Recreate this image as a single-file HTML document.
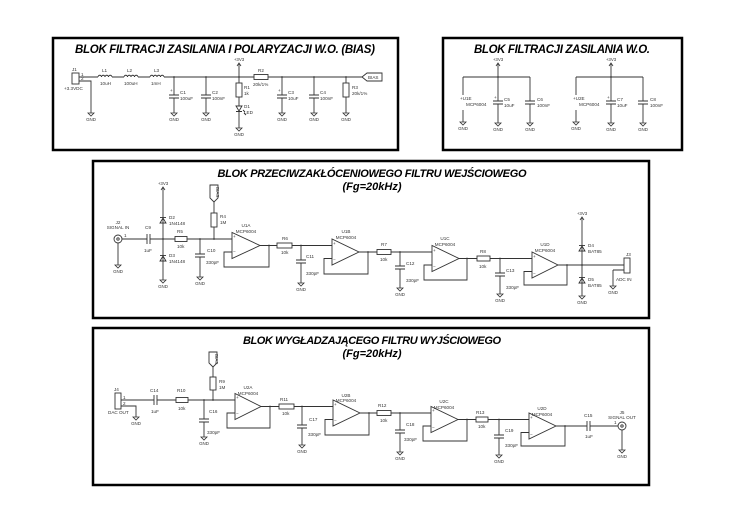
<!DOCTYPE html>
<html><head><meta charset="utf-8"><style>
html,body{margin:0;padding:0;background:#fff}
svg{display:block}
text{font-family:"Liberation Sans",sans-serif;fill:#333}
.t{font-weight:bold;font-style:italic;fill:#000}
.s{font-size:4.6px}
</style></head><body>
<svg width="740" height="523" viewBox="0 0 740 523" xmlns="http://www.w3.org/2000/svg">
<defs>
<g id="gnd"><polygon points="-3,0 3,0 0,3" fill="none" stroke="#333" stroke-width="0.8"/><text x="0" y="8" text-anchor="middle" font-size="4.4" font-family="Liberation Sans">GND</text></g>
<g id="vcc"><polyline points="-2,3 0,0 2,3" fill="none" stroke="#333" stroke-width="0.8"/><text x="0" y="-2" text-anchor="middle" font-size="4.4" font-family="Liberation Sans">+3V3</text></g>
</defs>
<rect width="740" height="523" fill="#fff"/>
<g fill="none" stroke="#000" stroke-width="2.5">
<rect x="53" y="38" width="345" height="112"/>
<rect x="443" y="38" width="239" height="112"/>
<rect x="93" y="161" width="556" height="157"/>
<rect x="93" y="328" width="556" height="157"/>
</g>
<text class="t" x="225" y="53" font-size="11.5" text-anchor="middle" textLength="300">BLOK FILTRACJI ZASILANIA I POLARYZACJI W.O. (BIAS)</text>
<text class="t" x="562" y="53" font-size="11.5" text-anchor="middle" textLength="176">BLOK FILTRACJI ZASILANIA W.O.</text>
<text class="t" x="372" y="177" font-size="11" text-anchor="middle" textLength="309">BLOK PRZECIWZAKŁÓCENIOWEGO FILTRU WEJŚCIOWEGO</text>
<text class="t" x="372" y="190" font-size="11" text-anchor="middle">(Fg=20kHz)</text>
<text class="t" x="372" y="344" font-size="11" text-anchor="middle" textLength="258">BLOK WYGŁADZAJĄCEGO FILTRU WYJŚCIOWEGO</text>
<text class="t" x="372" y="357" font-size="11" text-anchor="middle">(Fg=20kHz)</text>

<!-- BOX1 -->
<g fill="none" stroke="#333" stroke-width="0.9">
<rect x="72" y="73" width="7" height="11"/>
<path d="M79 77H98M112 77H124M138 77H150M164 77H254M268 77H362M79 81H91V113"/>
<path d="M98 77a1.75 1.75 0 0 1 3.5 0a1.75 1.75 0 0 1 3.5 0a1.75 1.75 0 0 1 3.5 0a1.75 1.75 0 0 1 3.5 0"/>
<path d="M124 77a1.75 1.75 0 0 1 3.5 0a1.75 1.75 0 0 1 3.5 0a1.75 1.75 0 0 1 3.5 0a1.75 1.75 0 0 1 3.5 0"/>
<path d="M150 77a1.75 1.75 0 0 1 3.5 0a1.75 1.75 0 0 1 3.5 0a1.75 1.75 0 0 1 3.5 0a1.75 1.75 0 0 1 3.5 0"/>
<path d="M174 77V95M169 95H179M169 98H179M174 98V113"/>
<path d="M206 77V95M201 95H211M201 98H211M206 98V113"/>
<path d="M239 64V83M239 97V106M239 112V128"/>
<rect x="236" y="83" width="6" height="14"/>
<polygon points="236,106 242,106 239,111"/><path d="M236 111.5H242M243 110l2 2M244 113l2 2"/>
<rect x="254" y="74.5" width="14" height="5"/>
<path d="M282 77V95M277 95H287M277 98H287M282 98V113"/>
<path d="M314 77V95M309 95H319M309 98H319M314 98V113"/>
<path d="M346 77V83M346 97V113"/>
<rect x="343" y="83" width="6" height="14"/>
<polygon points="362,77 367,73 382,73 382,81 367,81"/>
</g>
<g fill="#333"><circle cx="174" cy="77" r="0.9"/><circle cx="206" cy="77" r="0.9"/><circle cx="239" cy="77" r="0.9"/><circle cx="282" cy="77" r="0.9"/><circle cx="314" cy="77" r="0.9"/><circle cx="346" cy="77" r="0.9"/></g>
<use href="#gnd" x="91" y="113"/><use href="#gnd" x="174" y="113"/><use href="#gnd" x="206" y="113"/><use href="#gnd" x="239" y="128"/><use href="#gnd" x="282" y="113"/><use href="#gnd" x="314" y="113"/><use href="#gnd" x="346" y="113"/>
<use href="#vcc" x="239" y="63"/>
<g class="s">
<text x="72" y="71">J1</text><text x="81" y="76">1</text><text x="81" y="80">2</text><text x="64" y="90">+3.3VDC</text>
<text x="102" y="72">L1</text><text x="100" y="85">10uH</text>
<text x="127" y="72">L2</text><text x="124" y="85">100uH</text>
<text x="154" y="72">L3</text><text x="151" y="85">1mH</text>
<text x="170" y="92">+</text><text x="180" y="94">C1</text><text x="180" y="100">100uF</text>
<text x="212" y="94">C2</text><text x="212" y="100">100nF</text>
<text x="244" y="89">R1</text><text x="244" y="95">1k</text>
<text x="244" y="108">D1</text><text x="244" y="114">LED</text>
<text x="258" y="72">R2</text><text x="253" y="86">20k/1%</text>
<text x="278" y="92">+</text><text x="288" y="94">C3</text><text x="288" y="100">10uF</text>
<text x="320" y="94">C4</text><text x="320" y="100">100nF</text>
<text x="352" y="89">R3</text><text x="352" y="95">20k/1%</text>
<text x="368" y="79">BIAS</text>
</g>

<!-- BOX2 -->
<g fill="none" stroke="#333" stroke-width="0.9">
<path d="M498 64V77M463 77H530M463 77V95M463 110V122M498 77V101M493 101H503M493 104H503M498 104V123M530 77V101M525 101H535M525 104H535M530 104V123"/>
<path d="M611 64V77M576 77H643M576 77V95M576 110V122M611 77V101M606 101H616M606 104H616M611 104V123M643 77V101M638 101H648M638 104H648M643 104V123"/>
</g>
<g fill="#333"><circle cx="498" cy="77" r="0.9"/><circle cx="611" cy="77" r="0.9"/></g>
<use href="#vcc" x="498" y="63"/><use href="#vcc" x="611" y="63"/>
<use href="#gnd" x="463" y="122"/><use href="#gnd" x="498" y="123"/><use href="#gnd" x="530" y="123"/>
<use href="#gnd" x="576" y="122"/><use href="#gnd" x="611" y="123"/><use href="#gnd" x="643" y="123"/>
<g class="s">
<text x="460" y="100">+U1E</text><text x="466" y="106">MCP6004</text><text x="494" y="99">+</text><text x="504" y="101">C5</text><text x="504" y="107">10uF</text><text x="537" y="101">C6</text><text x="537" y="107">100nF</text>
<text x="573" y="100">+U2E</text><text x="579" y="106">MCP6004</text><text x="607" y="99">+</text><text x="617" y="101">C7</text><text x="617" y="107">10uF</text><text x="650" y="101">C8</text><text x="650" y="107">100nF</text>
</g>

<!-- BOX3 -->
<g fill="none" stroke="#333" stroke-width="0.9">
<circle cx="118" cy="239" r="4"/><circle cx="118" cy="239" r="1.2"/>
<path d="M122 239H147M150 239H175M187 239H232M118 243V265"/>
<path d="M147 234V244M150 234V244"/>
<rect x="175" y="236.5" width="12" height="5"/>
<path d="M163 188V280M214 239V227M214 213V202"/>
<polygon points="160,223 166,223 163,218"/><path d="M160 217.5H166"/>
<polygon points="160,261 166,261 163,256"/><path d="M160 255.5H166"/>
<path d="M200 239V254M195 254H205M195 257H205M200 257V277"/>
<rect x="211" y="213" width="6" height="14"/>
<polygon points="214,202 210,198 210,185 218,185 218,198"/>
<polygon points="232,232.5 232,258.5 260,245.5"/>
<path d="M260 245.5H277M292 245.5H332M269 245.5V267H224V252H232"/>
<rect x="277" y="243" width="15" height="5"/>
<path d="M301 245.5V260M296 260H306M296 263H306M301 263V283"/>
<polygon points="332,239 332,265 359,252"/>
<path d="M359 252H377M391 252H432M368 252V274H324V258.5H332"/>
<rect x="377" y="249.5" width="14" height="5"/>
<path d="M400 252V266M395 266H405M395 269H405M400 269V288"/>
<polygon points="432,245.5 432,271.5 459,258.5"/>
<path d="M459 258.5H477M490 258.5H532M467 258.5V280H424V265H432"/>
<rect x="477" y="256" width="13" height="5"/>
<path d="M500 258.5V273M495 273H505M495 276H505M500 276V294"/>
<polygon points="532,252 532,278 558,265"/>
<path d="M558 265H624M567 265V285H524V271.5H532M582 218V296M613 270H624M613 270V286"/>
<polygon points="579,251 585,251 582,246"/><path d="M579 245.5H585"/>
<polygon points="579,283 585,283 582,278"/><path d="M579 277.5H585"/>
<rect x="624" y="258" width="6" height="15"/>
</g>
<g fill="#333"><circle cx="163" cy="239" r="0.9"/><circle cx="200" cy="239" r="0.9"/><circle cx="214" cy="239" r="0.9"/><circle cx="269" cy="245.5" r="0.9"/><circle cx="301" cy="245.5" r="0.9"/><circle cx="368" cy="252" r="0.9"/><circle cx="400" cy="252" r="0.9"/><circle cx="467" cy="258.5" r="0.9"/><circle cx="500" cy="258.5" r="0.9"/><circle cx="567" cy="265" r="0.9"/><circle cx="582" cy="265" r="0.9"/></g>
<use href="#vcc" x="163" y="187"/><use href="#vcc" x="582" y="217"/>
<use href="#gnd" x="118" y="265"/><use href="#gnd" x="163" y="280"/><use href="#gnd" x="200" y="277"/><use href="#gnd" x="301" y="283"/><use href="#gnd" x="400" y="288"/><use href="#gnd" x="500" y="294"/><use href="#gnd" x="582" y="296"/><use href="#gnd" x="613" y="286"/>
<g class="s">
<text transform="translate(216,187) rotate(90)">BIAS</text>
<text x="118" y="224" text-anchor="middle">J2</text><text x="118" y="229" text-anchor="middle">SIGNAL IN</text><text x="124" y="237">1</text>
<text x="145" y="229">C9</text><text x="144" y="252">1uF</text>
<text x="169" y="219">D2</text><text x="169" y="225">1N4148</text>
<text x="169" y="257">D3</text><text x="169" y="263">1N4148</text>
<text x="177" y="233">R5</text><text x="177" y="248">10k</text>
<text x="207" y="252">C10</text><text x="206" y="264">330pF</text>
<text x="220" y="218">R4</text><text x="220" y="224">1M</text>
<text x="246" y="227" text-anchor="middle">U1A</text><text x="246" y="233" text-anchor="middle">MCP6004</text>
<text x="233" y="238">+</text><text x="233" y="253">−</text>
<text x="282" y="240">R6</text><text x="281" y="254">10k</text>
<text x="306" y="258">C11</text><text x="306" y="275">330pF</text>
<text x="346" y="233" text-anchor="middle">U1B</text><text x="346" y="239" text-anchor="middle">MCP6004</text>
<text x="333" y="245">+</text><text x="333" y="261">−</text>
<text x="381" y="246">R7</text><text x="380" y="261">10k</text>
<text x="406" y="265">C12</text><text x="406" y="282">330pF</text>
<text x="445" y="240" text-anchor="middle">U1C</text><text x="445" y="246" text-anchor="middle">MCP6004</text>
<text x="433" y="252">+</text><text x="433" y="268">−</text>
<text x="480" y="253">R8</text><text x="479" y="268">10k</text>
<text x="506" y="272">C13</text><text x="506" y="289">330pF</text>
<text x="545" y="246" text-anchor="middle">U1D</text><text x="545" y="252" text-anchor="middle">MCP6004</text>
<text x="533" y="258">+</text><text x="533" y="275">−</text>
<text x="588" y="247">D4</text><text x="588" y="253">BAT85</text>
<text x="588" y="281">D5</text><text x="588" y="287">BAT85</text>
<text x="626" y="256">J3</text><text x="616" y="281">ADC IN</text>
</g>

<!-- BOX4 -->
<g fill="none" stroke="#333" stroke-width="0.9">
<rect x="115" y="393" width="6" height="16"/>
<path d="M121 400H154M157 400H176M188 400H235M121 406H136V417"/>
<path d="M154 395V405M157 395V405"/>
<rect x="176" y="397.5" width="12" height="5"/>
<path d="M204 400V419M199 419H209M199 422H209M204 422V437"/>
<path d="M213 400V390M213 377V367"/>
<rect x="210" y="377" width="6" height="13"/>
<polygon points="213,367 209,363 209,352 217,352 217,363"/>
<polygon points="235,393.5 235,419.5 261,406.5"/>
<path d="M261 406.5H279M294 406.5H333M270 406.5V428H227V413H235"/>
<rect x="279" y="404" width="15" height="5"/>
<path d="M302 406.5V425M297 425H307M297 428H307M302 428V445"/>
<polygon points="333,400 333,426 360,413"/>
<path d="M360 413H377M391 413H431M369 413V435H325V419.5H333"/>
<rect x="377" y="410.5" width="14" height="5"/>
<path d="M400 413V430M395 430H405M395 433H405M400 433V452"/>
<polygon points="431,406.5 431,432.5 458,419.5"/>
<path d="M458 419.5H476M488 419.5H529M467 419.5V441H423V426H431"/>
<rect x="476" y="417" width="12" height="5"/>
<path d="M499 419.5V435M494 435H504M494 438H504M499 438V455"/>
<polygon points="529,413 529,439 556,426"/>
<path d="M556 426H587M590 426H618M565 426V446H521V432.5H529M587 421V431M590 421V431M622 430V450"/>
<circle cx="622" cy="426" r="4"/><circle cx="622" cy="426" r="1.2"/>
</g>
<g fill="#333"><circle cx="204" cy="400" r="0.9"/><circle cx="213" cy="400" r="0.9"/><circle cx="270" cy="406.5" r="0.9"/><circle cx="302" cy="406.5" r="0.9"/><circle cx="369" cy="413" r="0.9"/><circle cx="400" cy="413" r="0.9"/><circle cx="467" cy="419.5" r="0.9"/><circle cx="499" cy="419.5" r="0.9"/><circle cx="565" cy="426" r="0.9"/></g>
<use href="#gnd" x="136" y="417"/><use href="#gnd" x="204" y="437"/><use href="#gnd" x="302" y="445"/><use href="#gnd" x="400" y="452"/><use href="#gnd" x="499" y="455"/><use href="#gnd" x="622" y="450"/>
<g class="s">
<text transform="translate(215,354) rotate(90)">BIAS</text>
<text x="114" y="391">J4</text><text x="123" y="399">1</text><text x="123" y="405">2</text><text x="108" y="414">DAC OUT</text>
<text x="150" y="392">C14</text><text x="151" y="413">1uF</text>
<text x="177" y="392">R10</text><text x="178" y="410">10k</text>
<text x="209" y="413">C16</text><text x="207" y="434">330pF</text>
<text x="219" y="383">R9</text><text x="219" y="389">1M</text>
<text x="248" y="389" text-anchor="middle">U2A</text><text x="248" y="395" text-anchor="middle">MCP6004</text>
<text x="236" y="399">+</text><text x="236" y="415">−</text>
<text x="280" y="401">R11</text><text x="282" y="415">10k</text>
<text x="309" y="421">C17</text><text x="308" y="436">330pF</text>
<text x="346" y="397" text-anchor="middle">U2B</text><text x="346" y="402" text-anchor="middle">MCP6004</text>
<text x="334" y="406">+</text><text x="334" y="422">−</text>
<text x="378" y="407">R12</text><text x="380" y="422">10k</text>
<text x="406" y="426">C18</text><text x="404" y="441">330pF</text>
<text x="444" y="403" text-anchor="middle">U2C</text><text x="444" y="409" text-anchor="middle">MCP6004</text>
<text x="432" y="412">+</text><text x="432" y="429">−</text>
<text x="476" y="414">R13</text><text x="478" y="428">10k</text>
<text x="505" y="432">C19</text><text x="505" y="447">330pF</text>
<text x="542" y="410" text-anchor="middle">U2D</text><text x="542" y="416" text-anchor="middle">MCP6004</text>
<text x="530" y="419">+</text><text x="530" y="436">−</text>
<text x="584" y="417">C15</text><text x="585" y="438">1uF</text>
<text x="622" y="414" text-anchor="middle">J5</text><text x="622" y="419" text-anchor="middle">SIGNAL OUT</text><text x="614" y="424">1</text>
</g>
</svg>
</body></html>
